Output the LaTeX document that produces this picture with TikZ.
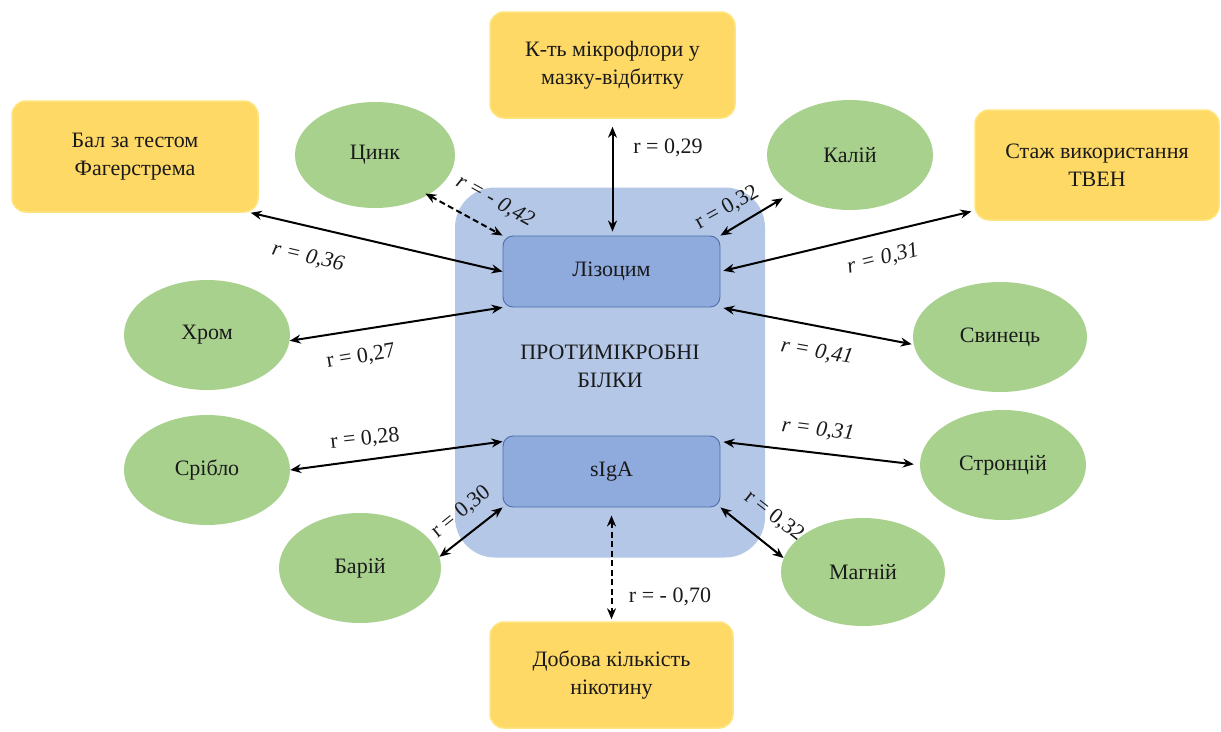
\documentclass[tikz,border=0pt]{standalone}
\usepackage{fontspec}
\setmainfont{Liberation Serif}
\usetikzlibrary{arrows.meta,calc,shapes.geometric}
\definecolor{yel}{HTML}{FFD966}
\definecolor{yelline}{HTML}{FFE57F}
\definecolor{grn}{HTML}{A9D18E}
\definecolor{bigblue}{HTML}{B4C7E7}
\definecolor{boxblue}{HTML}{8FAADC}
\definecolor{boxline}{HTML}{4A6FA8}
\definecolor{txt}{HTML}{1A1A1A}
\begin{document}
\begin{tikzpicture}[x=1pt,y=-1pt,
  every node/.style={font=\fontsize{22}{28}\selectfont, text=txt},
  factor/.style={rectangle, rounded corners=14pt, fill=yel, draw=yelline, line width=1.5pt, align=center, inner sep=0pt},
  element/.style={ellipse, fill=grn, draw=none, inner sep=0pt, minimum width=166pt, minimum height=110pt},
  protein/.style={rectangle, rounded corners=10pt, fill=boxblue, draw=boxline, line width=0.9pt, minimum width=217pt, minimum height=71pt, inner sep=0pt},
  rlabel/.style={font=\fontsize{22}{25}\selectfont, inner sep=0pt},
  link/.style={line width=2pt, black, {Stealth[length=11pt,width=9pt]}-{Stealth[length=11pt,width=9pt]}},
  neglink/.style={link, dash pattern=on 6pt off 3.5pt}
]
\path[use as bounding box, fill=white] (0,0) rectangle (1221,731);

% central frame
\node[rectangle, rounded corners=40pt, fill=bigblue, minimum width=310pt, minimum height=370pt, inner sep=0pt] (frame) at (610,372.5) {};
\node[protein] (liz) at (611.5,271.5) {Лізоцим};
\node[protein] (sig) at (611.5,471.5) {sIgA};
\node[align=center, inner sep=0pt] (title) at (610,366) {ПРОТИМІКРОБНІ\\БІЛКИ};

% factors
\node[factor, minimum width=246pt, minimum height=111pt] (bal) at (135,156.5) {Бал за тестом\\Фагерстрема};
\node[factor, minimum width=245pt, minimum height=106pt] (kt) at (612.5,65) {К-ть мікрофлори у\\мазку-відбитку};
\node[factor, minimum width=244pt, minimum height=110pt] (tven) at (1097,165) {Стаж використання\\ТВЕН};
\node[factor, minimum width=243pt, minimum height=106pt] (dob) at (611.5,675) {Добова кількість\\нікотину};

% elements
\node[element, minimum width=160pt, minimum height=106pt] (zinc) at (375,155) {Цинк};
\node[element] (kal) at (850,155) {Калій};
\node[element] (khrom) at (207,335) {Хром};
\node[element, minimum width=174pt] (svin) at (1000,337) {Свинець};
\node[element] (sribl) at (207,470) {Срібло};
\node[element] (stron) at (1003,465) {Стронцій};
\node[element, minimum width=162pt] (bar) at (360,568) {Барій};
\node[element, minimum width=164pt, minimum height=108pt] (mag) at (863,572) {Магній};

% connectors
\draw[link, shorten <=8pt, shorten >=4pt] (kt.south) -- (kt.south |- liz.north);
\draw[link] ([xshift=-8pt]bal.south east) -- (liz.west);
\draw[neglink, shorten <=-3pt] (zinc.-37) -- (liz.north west);
\draw[link, shorten >=9pt] (liz.north east) -- (kal.213);
\draw[link, shorten <=3pt, shorten >=3pt] (liz.east) -- ([yshift=10pt]tven.south west);
\draw[link, shorten <=3pt, shorten >=2pt] (liz.south east) -- (svin.185);
\draw[link] (khrom.-4) -- (liz.south west);
\draw[link] (sribl.east) -- ([yshift=-6pt]sig.north west);
\draw[link, shorten <=3pt, shorten >=6pt] ([yshift=-6pt]sig.north east) -- (stron.west);
\draw[link] (bar.8) -- (sig.south west);
\draw[link] (sig.south east) -- (mag.170);
\draw[neglink, shorten <=8pt, shorten >=2pt] (sig.south) -- (sig.south |- dob.north);

% labels
\node[rlabel] (l1) at (668,148) {r = 0,29};
\node[rlabel, rotate=-13] (l2) at (308,257) {\itshape r = 0,36};
\node[rlabel, rotate=-29] (l3) at (495,201) {\itshape r = - 0,42};
\node[rlabel, rotate=29] (l4) at (727,208) {r = 0,32};
\node[rlabel, rotate=14] (l5) at (883,259) {\itshape r = 0,31};
\node[rlabel, rotate=-10] (l6) at (817,352) {\itshape r = 0,41};
\node[rlabel, rotate=9] (l7) at (361,357) {r = 0,27};
\node[rlabel, rotate=6] (l8) at (365,439) {r = 0,28};
\node[rlabel, rotate=-7] (l9) at (818,430) {\itshape r = 0,31};
\node[rlabel, rotate=39] (l10) at (461,512) {r = 0,30};
\node[rlabel, rotate=-38] (l11) at (774,516) {r = 0,32};
\node[rlabel] (l12) at (670,597) {r = - 0,70};
\end{tikzpicture}
\end{document}
